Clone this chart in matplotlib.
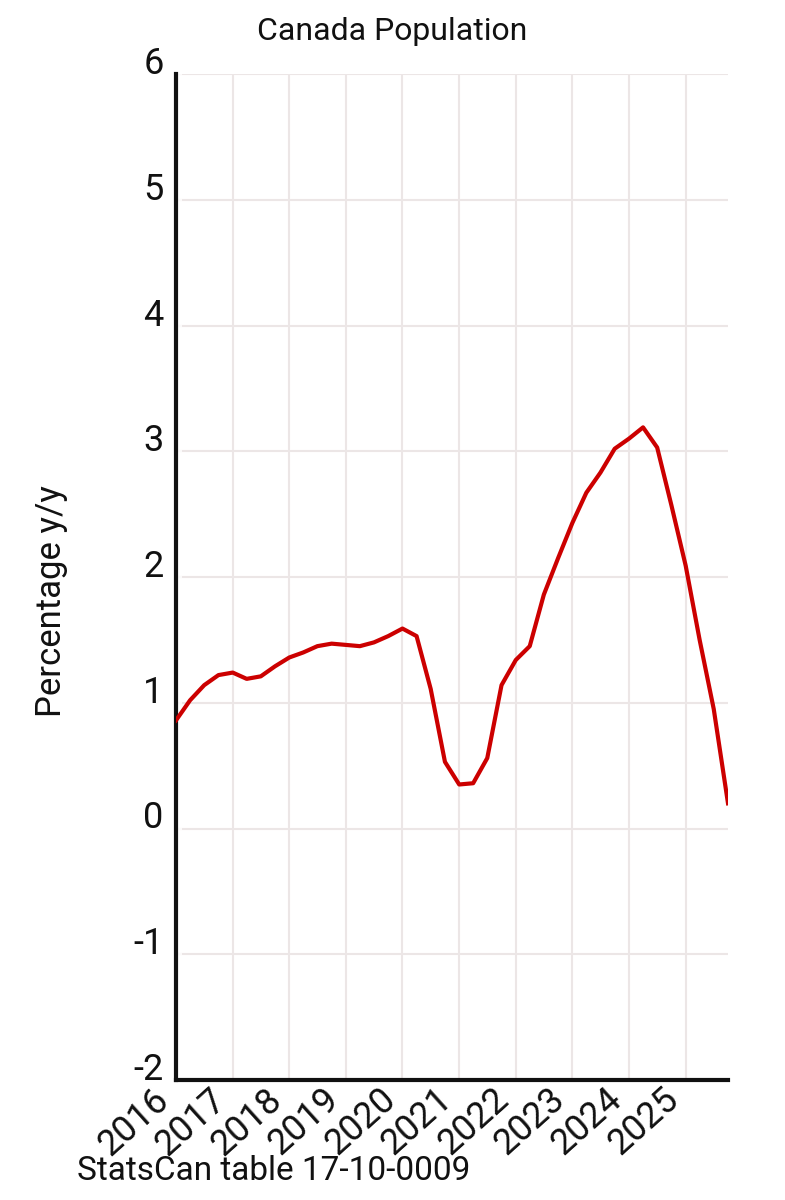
import pandas as pd
import matplotlib
matplotlib.use('Agg')
import matplotlib.pyplot as plt
import matplotlib.dates as mdates

plt.rcParams['font.family'] = ['Roboto', 'DejaVu Sans']
plt.rcParams['axes.unicode_minus'] = False

# Quarterly population growth, % y/y
quarters = pd.date_range('2016-01-01', '2025-10-01', freq='QS')
growth = [
    0.86, 1.02, 1.14, 1.22,   # 2016
    1.24, 1.19, 1.21, 1.29,   # 2017
    1.36, 1.40, 1.45, 1.47,   # 2018
    1.46, 1.45, 1.48, 1.53,   # 2019
    1.59, 1.53, 1.11, 0.53,   # 2020
    0.35, 0.36, 0.56, 1.14,   # 2021
    1.34, 1.45, 1.86, 2.15,   # 2022
    2.43, 2.67, 2.83, 3.02,   # 2023
    3.10, 3.19, 3.03, 2.57,   # 2024
    2.09, 1.50, 0.95, 0.20,   # 2025
]
year_ticks = pd.date_range('2016-01-01', '2025-01-01', freq='YS')
y_ticks = [-2, -1, 0, 1, 2, 3, 4, 5, 6]

fig = plt.figure(figsize=(7.85, 12), dpi=100)
ax = fig.add_axes([176/785, 1 - 1080/1200, (728 - 176)/785, (1080 - 74)/1200])

ax.plot(quarters, growth, color='#cc0000', linewidth=3.0, zorder=3)

ax.set_xlim(quarters[0], quarters[-1])
ax.set_ylim(-2, 6)
ax.set_yticks(y_ticks)
ax.set_xticks(year_ticks)
ax.xaxis.set_major_formatter(mdates.DateFormatter('%Y'))

ax.grid(True, color='#ece6e6', linewidth=1.5)
ax.set_axisbelow(True)
for s in ['top', 'right']:
    ax.spines[s].set_visible(False)
for s in ['left', 'bottom']:
    ax.spines[s].set_linewidth(3.0)
    ax.spines[s].set_color('#111111')

ax.tick_params(axis='y', direction='in', length=4, width=1.2, color='white',
               pad=9, labelsize=26, labelcolor='#111111')
ax.tick_params(axis='x', length=0, pad=1, labelsize=26, labelcolor='#111111')
for lab in ax.get_yticklabels():
    lab.set_va('baseline')
plt.setp(ax.get_xticklabels(), rotation=42, ha='right', va='top')

fig.text(392/785, 1 - 31/1200, 'Canada Population', ha='center', va='center',
         fontsize=23, color='#111111')
fig.text(52/785, 1 - 601/1200, 'Percentage y/y', rotation=90, ha='center',
         va='center', fontsize=25, color='#111111')
fig.text(77/785, 1 - 1180/1200, 'StatsCan table 17-10-0009', ha='left',
         va='baseline', fontsize=24, color='#111111')

plt.savefig('out.png', dpi=100)
